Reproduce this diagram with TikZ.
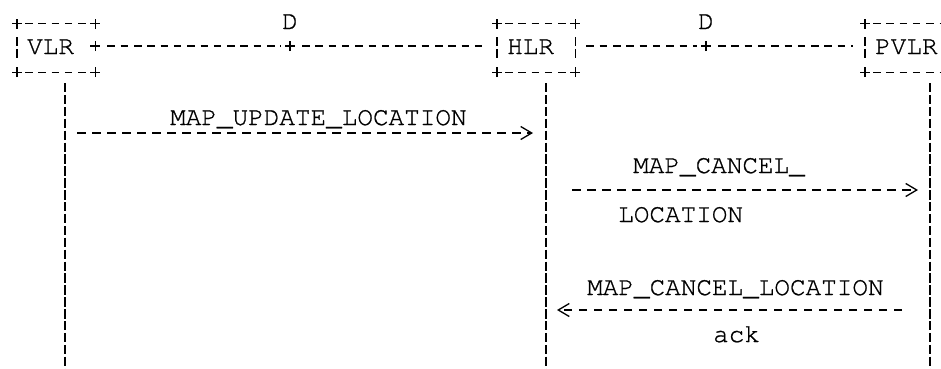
\documentclass[tikz,border=0pt]{standalone}
\usepackage{fontspec}
\setmonofont{TeX Gyre Cursor}[FakeBold=0.9]
\usetikzlibrary{arrows.meta}

\tikzset{
  lbl/.style={font=\ttfamily\fontsize{26}{30}\selectfont, inner sep=0pt, anchor=base west},
  box/.style={lbl, anchor=west, inner ysep=0pt, inner xsep=10pt, text width=58pt,
    text height=14pt, text depth=2pt, minimum height=48pt, align=left},
  hdash/.style={line width=1.3pt, dash pattern=on 7.5pt off 5.8pt},
  vdash/.style={line width=1.3pt, dash pattern=on 9.4pt off 2.5pt},
  msg/.style={line width=1.3pt, dash pattern=on 8.5pt off 6.5pt},
  plus/.pic={\draw[line width=1.3pt] (-5pt,0) -- (5pt,0) (0,-5pt) -- (0,5pt);}
}

\begin{document}
\begin{tikzpicture}[x=1pt, y=-1pt, >={Straight Barb[length=11pt, width=13pt]}]
    \useasboundingbox (0,0) rectangle (941,368);
    \clip (0,0) rectangle (941,368);
    \node[box] (vlr) at (17,48) {VLR};
    \node[box] (hlr) at (497,48) {HLR};
    \node[box, text width=71pt] (pvlr) at (865,48) {PVLR};
    \node[lbl, anchor=base] (d1) at (290,29) {D};
    \node[lbl, anchor=base] (d2) at (706,29) {D};
    \foreach \b in {vlr, hlr, pvlr} {
        \draw[hdash] ([xshift=8pt]\b.north west) -- ([xshift=-8pt]\b.north east);
        \draw[hdash] ([xshift=8pt]\b.south west) -- ([xshift=-8pt]\b.south east);
        \foreach \c in {north west, north east, south west, south east}
            \pic at (\b.\c) {plus};
        \draw[vdash] ([yshift=11pt]\b.west) -- ([yshift=-10pt]\b.west);
    }
    \draw[vdash] ([yshift=11pt]hlr.east) -- ([yshift=-10pt]hlr.east);
    \coordinate (j0) at ([yshift=2pt]vlr.east);
    \coordinate (j1) at (d1 |- j0);
    \coordinate (j2) at (d2 |- j0);
    \foreach \j in {j0, j1, j2}
        \pic at (\j) {plus};
    \draw[hdash] ([xshift=12pt]j0) -- ([xshift=-9pt]j1);
    \draw[hdash] ([xshift=12pt]j1) -- ([xshift=-12pt]hlr.west |- j0);
    \draw[hdash] ([xshift=11pt]hlr.east |- j0) -- ([xshift=-9pt]j2);
    \draw[hdash] ([xshift=12pt]j2) -- ([xshift=-12pt]pvlr.west |- j0);
    \foreach \b/\x in {vlr/65, hlr/546, pvlr/930} {
        \coordinate (\b-top) at (\x,83);
        \coordinate (\b-bot) at (\x,370);
        \draw[vdash] (\b-top) -- (\b-bot);
    }
    \coordinate (m1) at (0,133);
    \coordinate (m2) at (0,190);
    \coordinate (m3) at (0,310);
    \node[lbl] (upd) at (170,125) {MAP\_UPDATE\_LOCATION};
    \node[lbl] (canc) at (633,173) {MAP\_CANCEL\_};
    \node[lbl] (loc) at (618,222) {LOCATION};
    \node[lbl] (cack) at (587,295) {MAP\_CANCEL\_LOCATION};
    \node[lbl] (ack) at (713,342) {ack};
    \begin{scope}[->]
        \draw[msg] ([xshift=12pt]vlr-top |- m1) -- ([xshift=-13pt]hlr-top |- m1);
        \draw[msg] ([xshift=26pt]hlr-top |- m2) -- ([xshift=-12pt]pvlr-top |- m2);
        \draw[msg] ([xshift=-28pt]pvlr-top |- m3) -- ([xshift=11pt]hlr-top |- m3);
    \end{scope}
\end{tikzpicture}
\end{document}
